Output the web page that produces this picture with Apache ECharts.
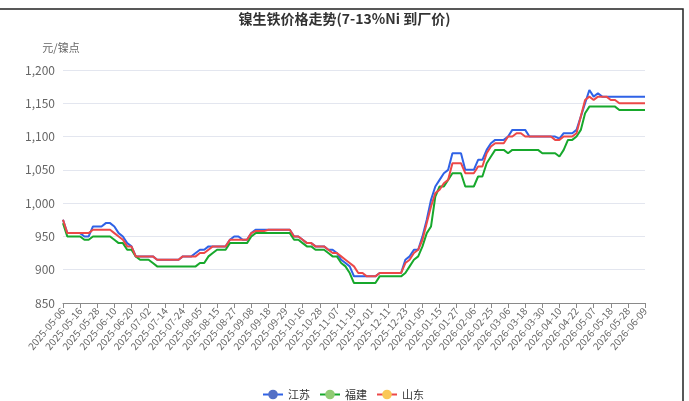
<!DOCTYPE html>
<html>
<head>
<meta charset="utf-8">
<script src="https://cdn.jsdelivr.net/npm/echarts@6/dist/echarts.min.js"></script>
<style>
  html, body { margin: 0; padding: 0; background: #fff; }
  #chart { width: 689px; height: 401px; }
</style>
</head>
<body>
<div id="chart"></div>
<script>
// Trading days (every second session), labelled every fourth entry
const dates = [
  '2025-05-06','2025-05-08','2025-05-12','2025-05-14','2025-05-16','2025-05-20','2025-05-22','2025-05-26','2025-05-28','2025-05-30',
  '2025-06-04','2025-06-06','2025-06-10','2025-06-12','2025-06-16','2025-06-18','2025-06-20','2025-06-24','2025-06-26','2025-06-30',
  '2025-07-02','2025-07-04','2025-07-08','2025-07-10','2025-07-14','2025-07-16','2025-07-18','2025-07-22','2025-07-24','2025-07-28',
  '2025-07-30','2025-08-01','2025-08-05','2025-08-07','2025-08-11','2025-08-13','2025-08-15','2025-08-19','2025-08-21','2025-08-25',
  '2025-08-27','2025-08-29','2025-09-02','2025-09-04','2025-09-08','2025-09-10','2025-09-12','2025-09-16','2025-09-18','2025-09-22',
  '2025-09-24','2025-09-26','2025-09-29','2025-10-09','2025-10-11','2025-10-14','2025-10-16','2025-10-20','2025-10-22','2025-10-24',
  '2025-10-28','2025-10-30','2025-11-03','2025-11-05','2025-11-07','2025-11-11','2025-11-13','2025-11-17','2025-11-19','2025-11-21',
  '2025-11-25','2025-11-27','2025-12-01','2025-12-03','2025-12-05','2025-12-09','2025-12-11','2025-12-15','2025-12-17','2025-12-19',
  '2025-12-23','2025-12-25','2025-12-29','2025-12-31','2026-01-05','2026-01-07','2026-01-09','2026-01-13','2026-01-15','2026-01-19',
  '2026-01-21','2026-01-23','2026-01-27','2026-01-29','2026-02-02','2026-02-04','2026-02-06','2026-02-10','2026-02-12','2026-02-14',
  '2026-02-25','2026-02-27','2026-03-02','2026-03-04','2026-03-06','2026-03-10','2026-03-12','2026-03-16','2026-03-18','2026-03-20',
  '2026-03-24','2026-03-26','2026-03-30','2026-04-01','2026-04-03','2026-04-08','2026-04-10','2026-04-14','2026-04-16','2026-04-20',
  '2026-04-22','2026-04-24','2026-04-28','2026-04-30','2026-05-07','2026-05-09','2026-05-12','2026-05-14','2026-05-18','2026-05-20',
  '2026-05-22','2026-05-26','2026-05-28','2026-06-01','2026-06-03','2026-06-05','2026-06-09'
];

// 江苏
const jiangsu = [
  975,955,955,955,955,950,950,965,965,965,
  970,970,965,955,950,940,935,920,920,920,
  920,920,915,915,915,915,915,915,920,920,
  920,925,930,930,935,935,935,935,935,945,
  950,950,945,945,955,960,960,960,960,960,
  960,960,960,960,950,950,945,940,940,935,
  935,935,930,930,925,915,910,905,890,890,
  890,890,890,890,895,895,895,895,895,895,
  915,920,930,930,950,975,1005,1025,1035,1045,
  1050,1075,1075,1075,1050,1050,1050,1065,1065,1080,
  1090,1095,1095,1095,1100,1110,1110,1110,1110,1100,
  1100,1100,1100,1100,1100,1100,1097,1105,1105,1105,
  1110,1130,1150,1170,1160,1165,1160,1160,1160,1160,
  1160,1160,1160,1160,1160,1160,1160
];

// 福建
const fujian = [
  970,950,950,950,950,945,945,950,950,950,
  950,950,945,940,940,930,930,920,915,915,
  915,910,905,905,905,905,905,905,905,905,
  905,905,910,910,920,925,930,930,930,940,
  940,940,940,940,950,955,955,955,955,955,
  955,955,955,955,945,945,940,935,935,930,
  930,930,925,920,920,910,905,895,880,880,
  880,880,880,880,890,890,890,890,890,890,
  895,905,915,920,935,955,965,1010,1025,1025,
  1035,1045,1045,1045,1025,1025,1025,1040,1040,1060,
  1070,1080,1080,1080,1075,1080,1080,1080,1080,1080,
  1080,1080,1075,1075,1075,1075,1070,1080,1095,1095,
  1100,1110,1135,1145,1145,1145,1145,1145,1145,1145,
  1140,1140,1140,1140,1140,1140,1140
];

// 山东
const shandong = [
  975,955,955,955,955,955,955,960,960,960,
  960,960,955,950,945,935,935,920,920,920,
  920,920,915,915,915,915,915,915,920,920,
  920,920,925,925,930,935,935,935,935,945,
  945,945,945,945,955,958,958,958,960,960,
  960,960,960,960,950,950,945,940,940,935,
  935,935,930,925,925,920,915,910,905,895,
  895,890,890,890,895,895,895,895,895,895,
  910,915,925,930,945,970,995,1015,1020,1030,
  1035,1060,1060,1060,1045,1045,1045,1055,1055,1075,
  1085,1090,1090,1090,1100,1100,1105,1105,1100,1100,
  1100,1100,1100,1100,1100,1095,1095,1100,1100,1100,
  1105,1130,1155,1160,1155,1160,1160,1160,1155,1155,
  1150,1150,1150,1150,1150,1150,1150
];

const regions = ['江苏', '福建', '山东'];
const yTicks = { min: 850, max: 1200, step: 50 };

const FONT = '"Noto Sans CJK SC", "Noto Sans", sans-serif';

function lineSeries(name, values, lineColor, dotColor) {
  return {
    name: name,
    type: 'line',
    data: values,
    symbol: 'circle',
    showSymbol: false,
    itemStyle: { color: dotColor },
    lineStyle: { color: lineColor, width: 2 },
    emphasis: { disabled: true }
  };
}

const chart = echarts.init(document.getElementById('chart'), null, { renderer: 'canvas' });
chart.setOption({
  animation: false,
  backgroundColor: '#ffffff',
  textStyle: { fontFamily: FONT },
  title: {
    text: '镍生铁价格走势(7-13%Ni 到厂价)',
    left: 'center',
    top: 7,
    textStyle: { fontSize: 14, fontWeight: 'bold', color: '#333', fontFamily: FONT }
  },
  graphic: [{
    type: 'polyline',
    silent: true,
    shape: { points: [[0, 9], [683, 9], [683, 401]] },
    style: { stroke: '#222', lineWidth: 1.5, fill: null }
  }],
  legend: {
    data: regions,
    top: 384,
    left: 257,
    itemWidth: 20,
    itemHeight: 12,
    itemGap: 9,
    textStyle: { fontSize: 11, color: '#333', fontFamily: FONT }
  },
  grid: { left: 63, right: 44, top: 70, bottom: 98 },
  xAxis: {
    type: 'category',
    boundaryGap: false,
    data: dates,
    axisLine: { lineStyle: { color: '#8a8a8a' } },
    axisTick: { interval: 3, length: 5, lineStyle: { color: '#8a8a8a' } },
    axisLabel: { interval: 3, rotate: 50, fontSize: 10, color: '#666', margin: 6, fontFamily: FONT }
  },
  yAxis: {
    type: 'value',
    min: yTicks.min,
    max: yTicks.max,
    interval: yTicks.step,
    name: '元/镍点',
    nameGap: 17,
    nameTextStyle: { color: '#666', fontSize: 11, padding: [0, 4, 0, 0], fontFamily: FONT },
    axisLine: { show: false },
    axisTick: { show: false },
    axisLabel: {
      fontSize: 12,
      color: '#666',
      margin: 8,
      fontFamily: FONT,
      formatter: v => v.toLocaleString('en-US')
    },
    splitLine: { lineStyle: { color: '#e3e6ef' } }
  },
  series: [
    lineSeries(regions[0], jiangsu, '#2f62e6', '#5470c6'),
    lineSeries(regions[1], fujian, '#17a82c', '#91cc75'),
    lineSeries(regions[2], shandong, '#ec4848', '#fac858')
  ]
});
</script>
</body>
</html>
